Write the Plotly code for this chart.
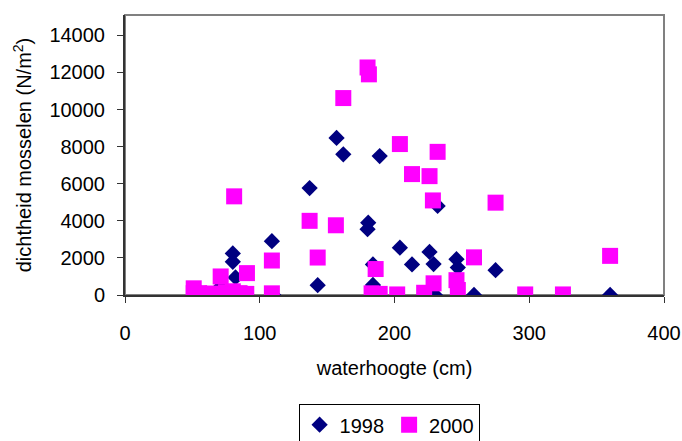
import plotly.graph_objects as go

# 1998 series (diamonds)
x_1998 = [80, 80, 82, 71, 60, 90, 109, 110, 137, 143, 157, 162, 189, 180.5, 180, 184, 184,
          204, 213, 226, 229, 232, 230, 222, 246, 247, 259, 275, 360]
y_1998 = [2240, 1790, 950, 450, 0, 0, 2900, 0, 5770, 530, 8470, 7590, 7490, 3900, 3550, 1650, 540,
          2550, 1650, 2320, 1670, 4800, 0, 0, 1930, 1480, 0, 1340, 0]

# 2000 series (squares)
x_2000 = [180, 181, 162, 204, 232, 213, 226, 81, 228.5, 275, 137, 156.5, 143, 259, 360, 109,
          186, 71, 90.5, 229, 246, 247, 222, 51, 109, 183, 189, 202, 297, 325,
          55, 60, 65, 75, 80, 85, 90, 51]
y_2000 = [12270, 11900, 10620, 8140, 7720, 6520, 6410, 5320, 5100, 4980, 4000, 3760, 2020, 2030, 2110, 1860,
          1400, 1000, 1180, 630, 800, 270, 120, 360, 90, 90, 60, 30, 30, 30,
          100, 50, 80, 150, 200, 100, 60, 100]

x_ticks = [0, 100, 200, 300, 400]
y_ticks = [0, 2000, 4000, 6000, 8000, 10000, 12000, 14000]

FONT = "Liberation Sans, Arial, sans-serif"

fig = go.Figure()
fig.add_trace(go.Scatter(
    x=x_1998, y=y_1998, mode="markers", name="1998",
    marker=dict(symbol="diamond", size=12.5, color="#000080", line=dict(width=0)),
))
fig.add_trace(go.Scatter(
    x=x_2000, y=y_2000, mode="markers", name="2000",
    marker=dict(symbol="square", size=16, color="#FF00FF", line=dict(width=0)),
))

fig.update_layout(
    width=682, height=441,
    margin=dict(l=125, r=18, t=15, b=146, autoexpand=False),
    paper_bgcolor="white", plot_bgcolor="white",
    font=dict(family=FONT, size=20, color="black"),
    showlegend=True,
    legend=dict(
        orientation="h", x=0.49, xanchor="center", y=-0.39, yanchor="top",
        bordercolor="black", borderwidth=1, bgcolor="white",
        font=dict(family=FONT, size=20, color="black"),
        itemwidth=30, tracegroupgap=0,
    ),
    xaxis=dict(
        range=[0, 400], tickvals=x_ticks, ticktext=[str(v) for v in x_ticks],
        showgrid=False, zeroline=False,
        showline=True, linecolor="#333333", linewidth=2,
        ticks="outside", ticklen=6, tickcolor="#333333", tickwidth=1,
        ticklabelstandoff=13,
        tickfont=dict(family=FONT, size=20),
        title=dict(text="waterhoogte (cm)", standoff=18, font=dict(family=FONT, size=20)),
    ),
    yaxis=dict(
        range=[0, 15100], tickvals=y_ticks, ticktext=[str(v) for v in y_ticks],
        showgrid=False, zeroline=False,
        showline=True, linecolor="#333333", linewidth=2,
        ticks="outside", ticklen=6, tickcolor="#333333", tickwidth=1,
        ticklabelstandoff=8,
        tickfont=dict(family=FONT, size=20),
        title=dict(text="dichtheid mosselen (N/m<sup>2</sup>)", standoff=12,
                   font=dict(family=FONT, size=20)),
    ),
    shapes=[dict(type="rect", xref="paper", yref="paper", x0=0, x1=1, y0=0, y1=1,
                 line=dict(color="#808080", width=2), layer="below")],
)

fig.write_html("out.html")
